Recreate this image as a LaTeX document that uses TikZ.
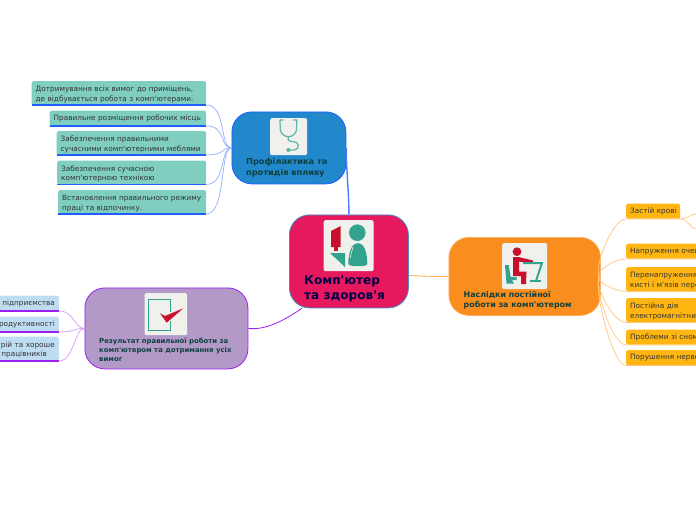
\documentclass[tikz,border=0pt]{standalone}
\usepackage{fontspec}
\setmainfont{DejaVu Sans}[Ligatures=TeXOff]
\definecolor{blueline}{HTML}{1F5FFF}
\definecolor{bluethin}{HTML}{8FAEFF}
\definecolor{bluefill}{HTML}{2288CC}
\definecolor{tealleaf}{HTML}{7FCEC0}
\definecolor{redfill}{HTML}{E6195F}
\definecolor{redline}{HTML}{3F8FC8}
\definecolor{orangefill}{HTML}{F98E1E}
\definecolor{orangethin}{HTML}{FFC67A}
\definecolor{orangeleaf}{HTML}{FFB612}
\definecolor{purplefill}{HTML}{B399C8}
\definecolor{purpleline}{HTML}{9A1FF0}
\definecolor{purplethin}{HTML}{D49CF8}
\definecolor{blueleaf}{HTML}{BFDDF2}
\definecolor{iconbg}{HTML}{F0F1EC}
\definecolor{icteal}{HTML}{33A38F}
\definecolor{icred}{HTML}{C8102E}
\definecolor{hubtext}{HTML}{0F4040}
\tikzset{
 x=1pt,y=-1pt,
 hub/.style={rounded corners=20pt,anchor=north west,inner sep=0pt,line width=.8pt},
 leaf/.style={rounded corners=1.5pt,anchor=north west,inner ysep=0pt,inner xsep=4pt,align=left,text=black!80,font=\fontsize{7.3}{9.5}\selectfont},
 twoline/.style={execute at begin node={\rule{0pt}{8.5pt}}},
 leafB/.style={leaf,fill=tealleaf},
 leafO/.style={leaf,fill=orangeleaf},
 leafP/.style={leaf,fill=blueleaf,anchor=north east,align=right,text width=142pt},
 ulB/.style={blueline,line width=1.5pt},
 ulP/.style={purpleline,line width=1.4pt},
 iconbox/.style={fill=iconbg,rounded corners=1.5pt,anchor=north west,inner sep=0pt},
 hubtxt/.style={anchor=north west,inner sep=0pt,align=left,text=hubtext},
}
\begin{document}
\begin{tikzpicture}
\useasboundingbox (0,0) rectangle (696,520);
\clip (0,0) rectangle (696,520);
% hubs
\node[hub,fill=redfill,draw=redline,minimum width=119pt,minimum height=93pt] (center) at (289,214.5) {};
\node[hub,fill=bluefill,draw=blueline,minimum width=114pt,minimum height=72pt] (prof) at (231.5,111.5) {};
\node[hub,fill=orangefill,draw=orangefill!70!white,minimum width=151.5pt,minimum height=78pt] (nasl) at (448.5,237) {};
\node[hub,fill=purplefill,draw=purpleline,minimum width=163pt,minimum height=81pt] (rez) at (84.5,287.5) {};
% blue leaves
\node[leafB,twoline,minimum width=174.5pt,minimum height=23.5pt,text width=166.5pt] (b1) at (31.5,81) {Дотримування всіх вимог до приміщень,\\де відбувається робота з комп'ютерами.};
\node[leafB,minimum width=156.5pt,minimum height=15pt,text width=148.5pt] (b2) at (49.5,110.5) {\mbox{Правильне розміщення робочих місць}};
\node[leafB,twoline,minimum width=149.5pt,minimum height=23.5pt,text width=141.5pt] (b3) at (56.5,131) {Забезпечення правильними\\\mbox{сучасними комп'ютерними меблями}};
\node[leafB,twoline,minimum width=149pt,minimum height=23.5pt,text width=141pt] (b4) at (57,160.5) {Забезпечення сучасною\\комп'ютерною технікою};
\node[leafB,twoline,minimum width=148pt,minimum height=23.5pt,text width=140pt] (b5) at (58,190) {\mbox{Встановлення правильного режиму}\\праці та відпочинку.};
\foreach \n in {b1,b2,b3,b4,b5}{
 \draw[ulB] (\n.south west) -- (\n.south east);
 \draw[bluethin,line width=.7pt] (\n.south east) .. controls +(20,0) and +(-12,0) .. (prof.west);
}
% orange leaves
\node[leafO,minimum width=54pt,minimum height=15pt,text width=46pt] (o1) at (626,203.5) {\mbox{Застій крові}};
\node[leafO,minimum width=110pt,minimum height=15pt,text width=102pt] (o2) at (626,243.5) {\mbox{Напруження очей}};
\node[leafO,twoline,minimum width=150pt,minimum height=24pt,text width=142pt] (o3) at (626,267) {\mbox{Перенапруження м'язів}\\\mbox{кисті і м'язів передпліччя}};
\node[leafO,twoline,minimum width=150pt,minimum height=24pt,text width=142pt] (o4) at (626,298) {Постійна дія\\\mbox{електромагнітних полів}};
\node[leafO,minimum width=110pt,minimum height=15pt,text width=102pt] (o5) at (626,329.5) {\mbox{Проблеми зі сном}};
\node[leafO,minimum width=150pt,minimum height=15pt,text width=142pt] (o6) at (626,350) {\mbox{Порушення нервової системи}};
\foreach \n in {o1,o2,o3,o4,o5,o6}{
 \draw[orangethin,line width=.7pt] (\n.south east) -- (\n.south west) .. controls +(-15,0) and +(-10,0) .. (nasl.east);
}
\coordinate (o1a) at (696,214);
\coordinate (o1b) at (696,229);
\draw[orangethin,line width=.7pt] (o1.south east) .. controls +(8,0) and +(-6,0) .. (o1a);
\draw[orangethin,line width=.7pt] (o1.south east) .. controls +(8,0) and +(-6,0) .. (o1b);
% purple leaves
\node[leafP,minimum width=150pt,minimum height=15pt] (p1) at (59,295.5) {Прибутковість підприємства};
\node[leafP,minimum width=150pt,minimum height=15pt] (p2) at (59,316.5) {Підвищення продуктивності};
\node[leafP,twoline,minimum width=150pt,minimum height=24pt] (p3) at (59,336.5) {Гарний настрій та хороше\hspace*{3pt}\\самопочуття працівників\hspace*{8pt}};
\foreach \n in {p1,p2,p3}{
 \draw[ulP] (\n.south west) -- (\n.south east);
 \draw[purplethin,line width=.7pt] (\n.south east) .. controls +(15,0) and +(-10,0) .. (rez.west);
}
% main links
\draw[blueline!80!white,line width=1.4pt] (center.north) .. controls +(0,-25) and +(0,25) .. (prof.east);
\draw[orangefill!70!white,line width=.9pt] ([yshift=-14pt]center.east) .. controls +(15,1) and +(-15,0) .. (nasl.west);
\draw[purpleline,line width=.8pt] ([xshift=13pt]center.south west) .. controls +(-18,12) and +(18,2) .. (rez.east);
% hub labels
\node[hubtxt,font=\bfseries\fontsize{8.2}{11}\selectfont] (tprof) at (246,158.5) {Профілактика та\\протидія впливу};
\node[hubtxt,text=black!20!blue!35!black,font=\bfseries\fontsize{12.1}{15}\selectfont] (tcenter) at (304,275) {Комп'ютер\\та здоров'я};
\node[hubtxt,font=\bfseries\fontsize{7.9}{10}\selectfont] (tnasl) at (463.5,291) {Наслідки постійної\\роботи за комп'ютером};
\node[hubtxt,font=\bfseries\fontsize{6.9}{9}\selectfont] (trez) at (99,338) {Результат правильної роботи за\\комп'ютером та дотримання усіх\\вимог};
% icons
\node[iconbox,minimum width=37pt,minimum height=37pt] (iprof) at (270,118) {};
\node[iconbox,minimum width=50pt,minimum height=51pt] (icenter) at (323.5,220) {};
\node[iconbox,minimum width=45pt,minimum height=46pt] (inasl) at (502,243) {};
\node[iconbox,minimum width=42.5pt,minimum height=42pt] (irez) at (144.5,293) {};
% stethoscope
\draw[icteal!80!white,line width=1.2pt,line cap=round,line join=round] (283,120) -- (280,120) -- (280.3,130) .. controls (281,134) and (285,136.7) .. (288.3,136.7) .. controls (292,136.7) and (296,134) .. (296.5,130) -- (296.8,120) -- (293.5,120);
\draw[icteal!80!white,line width=1.2pt] (288.3,136.7) -- (288.3,140) .. controls (288.3,142.5) and (298.3,140) .. (298.3,145.5) .. controls (298.3,151) and (292,150) .. (288.3,150);
\fill[icteal!80!white] (288.3,150) circle (2pt);
% computer person
\fill[icred] (331,231) -- (340.7,226) -- (340.7,247) -- (331,247) -- cycle;
\fill[icred] (334,247) rectangle (338.3,251);
\fill[icteal] (330,253) -- (345,253) -- (345,267) -- cycle;
\fill[icteal] (357.3,232.7) circle (8.3pt);
\fill[icteal] (348.3,264) .. controls (348.3,252) and (352,243) .. (358,243) .. controls (364,243) and (367.3,252) .. (367.3,264) .. controls (367.3,267) and (349,267) .. (348.3,264) -- cycle;
\draw[iconbg,line width=.6pt] (353,247) -- (350,258);
% desk person
\fill[icred] (517,251.7) circle (4.4pt);
\fill[icred] (513,257) -- (518.5,257) -- (533,260.5) -- (533,264) -- (519,261.5) -- (519,271.5) -- (526.5,271.5) -- (526,284) -- (521,284) -- (521,276) -- (513,276) -- cycle;
\fill[icteal] (505,265) -- (508.7,265) -- (510.7,277) -- (516.5,277) -- (516.5,280) -- (512,280) -- (514,283.5) -- (506.5,283.5) -- cycle;
\draw[icteal,line width=2pt] (523,263) -- (542,263) -- (536,281);
\draw[icteal,line width=2pt] (529.7,281) -- (541,281);
% check
\draw[icteal,line width=1.1pt] (170.7,311.5) -- (170.7,299.3) -- (148.3,299.3) -- (148.3,330.7) -- (170.7,330.7) -- (170.7,321);
\fill[icred] (160,313.3) -- (165,316) -- (183.3,308.3) -- (166.7,322.7) -- cycle;
\end{tikzpicture}
\end{document}
